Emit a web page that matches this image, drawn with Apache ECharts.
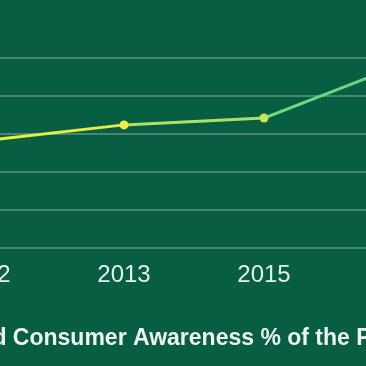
<!DOCTYPE html>
<html>
<head>
<meta charset="utf-8">
<script src="https://cdn.jsdelivr.net/npm/echarts@6/dist/echarts.min.js"></script>
<style>
html,body{margin:0;padding:0;width:366px;height:366px;overflow:hidden;background:#085e42;}
#c{position:absolute;left:-100px;top:0;width:600px;height:366px;}
</style>
</head>
<body>
<div id="c"></div>
<script>
var years = ['2012', '2013', '2015', '2017'];
var awareness = [28.2, 32.4, 34.2, 48.5];
var pointColors = ['#eef03a', '#eef04a', '#c4e85a', '#6ed888'];
var titleText = 'Brand Consumer Awareness % of the Population';

var chart = echarts.init(document.getElementById('c'));
chart.setOption({
  backgroundColor: '#085e42',
  animation: false,
  title: {
    text: titleText,
    left: 35,
    top: 322,
    textStyle: {color: '#eef5f0', fontSize: 23, fontWeight: 'bold', fontFamily: 'Liberation Sans, Arial, sans-serif'}
  },
  grid: {left: 84, right: 96, top: 58, bottom: 118, containLabel: false},
  xAxis: {
    type: 'category',
    data: years,
    boundaryGap: false,
    axisLine: {show: true, lineStyle: {color: '#44896d', width: 2}},
    axisTick: {show: false},
    axisLabel: {color: '#e6f0ea', fontSize: 24, margin: 15, fontFamily: 'Liberation Sans, Arial, sans-serif'},
    splitLine: {show: false}
  },
  yAxis: {
    type: 'value',
    min: 0, max: 50, interval: 10,
    axisLine: {show: false},
    axisTick: {show: false},
    axisLabel: {color: '#e6f0ea', fontSize: 20},
    splitLine: {lineStyle: {color: '#44896d', width: 2}}
  },
  series: [{
    type: 'line',
    data: awareness.map(function (v, i) { return {value: v, itemStyle: {color: pointColors[i]}}; }),
    symbol: 'circle',
    symbolSize: 9,
    lineStyle: {
      width: 3,
      color: new echarts.graphic.LinearGradient(0, 0, 1, 0, [
        {offset: 0, color: '#eef03a'},
        {offset: 0.33, color: '#e2ec46'},
        {offset: 0.34, color: '#b2e266'},
        {offset: 0.66, color: '#a6e06a'},
        {offset: 0.67, color: '#76d882'},
        {offset: 1, color: '#60d48c'}
      ])
    }
  }]
});
</script>
</body>
</html>
